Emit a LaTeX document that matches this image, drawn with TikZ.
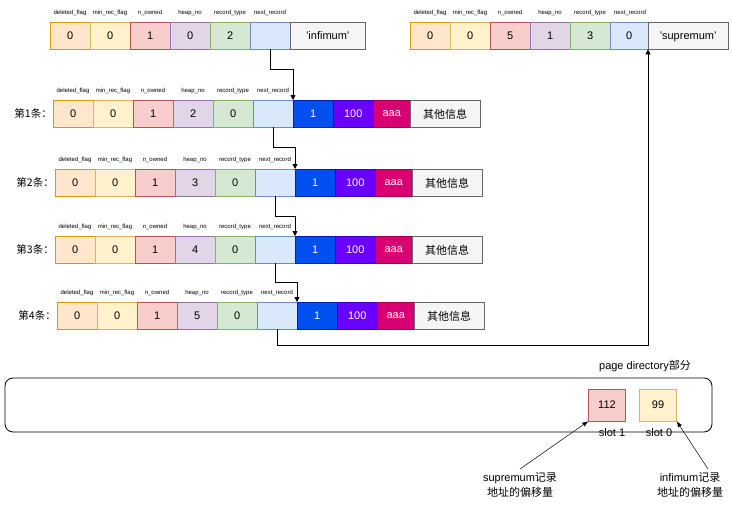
\documentclass[tikz,border=0pt]{standalone}
\usepackage{fontspec}
\setmainfont{Liberation Sans}
\newfontfamily\cjk{Noto Sans CJK SC}
\usetikzlibrary{arrows.meta}
\definecolor{cof}{HTML}{FFE6CC}\definecolor{cod}{HTML}{D79B00}
\definecolor{cyf}{HTML}{FFF2CC}\definecolor{cyd}{HTML}{D6B656}
\definecolor{crf}{HTML}{F8CECC}\definecolor{crd}{HTML}{B85450}
\definecolor{cpf}{HTML}{E1D5E7}\definecolor{cpd}{HTML}{9673A6}
\definecolor{cgf}{HTML}{D5E8D4}\definecolor{cgd}{HTML}{82B366}
\definecolor{cbf}{HTML}{DAE8FC}\definecolor{cbd}{HTML}{6C8EBF}
\definecolor{csf}{HTML}{F5F5F5}\definecolor{csd}{HTML}{666666}
\definecolor{cdf}{HTML}{0050EF}\definecolor{cdd}{HTML}{001DBC}
\definecolor{cvf}{HTML}{6A00FF}\definecolor{cvd}{HTML}{3700CC}
\definecolor{ckf}{HTML}{D80073}\definecolor{ckd}{HTML}{A50040}
\newcommand\mycell[5]{\node[cell,#4,minimum width=#3,anchor=north west] (#1) at (#2) {#5};}
\newcommand\myhdr[1]{%
 \node[hd] at ([xshift=20pt,yshift=9pt]#1) {deleted\_flag};
 \node[hd] at ([xshift=60pt,yshift=9pt]#1) {min\_rec\_flag};
 \node[hd] at ([xshift=100pt,yshift=9pt]#1) {n\_owned};
 \node[hd] at ([xshift=140pt,yshift=9pt]#1) {heap\_no};
 \node[hd] at ([xshift=180pt,yshift=9pt]#1) {record\_type};
 \node[hd] at ([xshift=220pt,yshift=9pt]#1) {next\_record};}
\tikzset{x=1pt,y=-1pt,
 cell/.style={draw,minimum height=27pt,inner sep=0pt,text depth=0pt,font=\fontsize{11}{12}\selectfont},
 sO/.style={fill=cof,draw=cod}, sY/.style={fill=cyf,draw=cyd}, sR/.style={fill=crf,draw=crd},
 sP/.style={fill=cpf,draw=cpd}, sG/.style={fill=cgf,draw=cgd}, sB/.style={fill=cbf,draw=cbd},
 sS/.style={fill=csf,draw=csd}, sD/.style={fill=cdf,draw=cdd,text=white},
 sV/.style={fill=cvf,draw=cvd,text=white}, sK/.style={fill=ckf,draw=ckd,text=white},
 hd/.style={font=\fontsize{6}{7}\selectfont,inner sep=0pt},
 lk/.style={-{Triangle[length=5pt,width=5pt]},line width=0.8pt},
 tx/.style={font=\fontsize{11}{13}\selectfont}}
\begin{document}
\begin{tikzpicture}
\useasboundingbox (0,0) rectangle (732,506);
\coordinate (io) at (50,22);
\myhdr{io}
\mycell{i1}{50,22}{40pt}{sO}{0}
\mycell{i2}{90,22}{40pt}{sY}{0}
\mycell{i3}{130,22}{40pt}{sR}{1}
\mycell{i4}{170,22}{40pt}{sP}{0}
\mycell{i5}{210,22}{40pt}{sG}{2}
\mycell{i6}{250,22}{40pt}{sB}{}
\mycell{i7}{290,22}{75pt}{sS}{'infimum'}
\coordinate (so) at (410,22);
\myhdr{so}
\mycell{s1}{410,22}{40pt}{sO}{0}
\mycell{s2}{450,22}{40pt}{sY}{0}
\mycell{s3}{490,22}{40pt}{sR}{5}
\mycell{s4}{530,22}{40pt}{sP}{1}
\mycell{s5}{570,22}{40pt}{sG}{3}
\mycell{s6}{610,22}{38pt}{sB}{0}
\mycell{s7}{648,22}{80pt}{sS}{'supremum'}
% record rows
\foreach \k/\X/\Y/\h in {1/53/100/2, 2/55/169/3, 3/55/236/4, 4/57/302/5}{
 \coordinate (r\k o) at (\X,\Y);
 \myhdr{r\k o}
 \node[anchor=east,inner sep=1pt,font=\cjk\fontsize{10.5}{12}\selectfont] at (\X,\Y+13.5) {第\k 条：};
 \mycell{r\k a}{\X,\Y}{40pt}{sO}{0}
 \mycell{r\k b}{\X+40,\Y}{40pt}{sY}{0}
 \mycell{r\k c}{\X+80,\Y}{40pt}{sR}{1}
 \mycell{r\k d}{\X+120,\Y}{40pt}{sP}{\h}
 \mycell{r\k e}{\X+160,\Y}{40pt}{sG}{0}
 \mycell{r\k f}{\X+200,\Y}{40pt}{sB}{}
 \mycell{r\k g}{\X+240,\Y}{40pt}{sD}{1}
 \mycell{r\k h}{\X+280,\Y}{40pt}{sV}{100}
 \mycell{r\k i}{\X+320,\Y}{37pt}{sK}{aaa}
 \mycell{r\k j}{\X+357,\Y}{70pt}{sS}{\cjk 其他信息}
}
\draw[lk] (i6.south) -- ++(0,20) -| (r1g.north west);
\draw[lk] (r1f.south) -- ++(0,20) -| (r2g.north west);
\draw[lk] (r2f.south) -- ++(0,20) -| (r3g.north west);
\draw[lk] (r3f.south) -- ++(0,19) -| (r4g.north west);
\draw[lk,line width=0.6pt] (r4f.south) -- ++(0,16) -| (s7.south west);
% page directory
\draw[rounded corners=8pt,line width=0.8pt] (5,378) rectangle (712,432);
\node[tx] (pd) at (645,366) {page directory{\cjk 部分}};
\node[cell,sR,minimum width=37pt,minimum height=32pt] (q1) at (607,405) {112};
\node[cell,sY,minimum width=37pt,minimum height=32pt] (q0) at (658,405) {99};
\node[tx] (l1) at (612,433) {slot 1};
\node[tx] (l0) at (659,433) {slot 0};
\node[tx,align=center,font=\fontsize{11}{15}\selectfont] (t1) at (520,485) {supremum{\cjk 记录}\\{\cjk 地址的偏移量}};
\node[tx,align=center,font=\fontsize{11}{15}\selectfont] (t0) at (690,485) {infimum{\cjk 记录}\\{\cjk 地址的偏移量}};
\draw[-{Latex[length=6pt]},line width=0.5pt] (t1.north) -- (q1.south west);
\draw[-{Latex[length=6pt]},line width=0.5pt] ([xshift=18pt]t0.north) -- (q0.south east);
\end{tikzpicture}
\end{document}
